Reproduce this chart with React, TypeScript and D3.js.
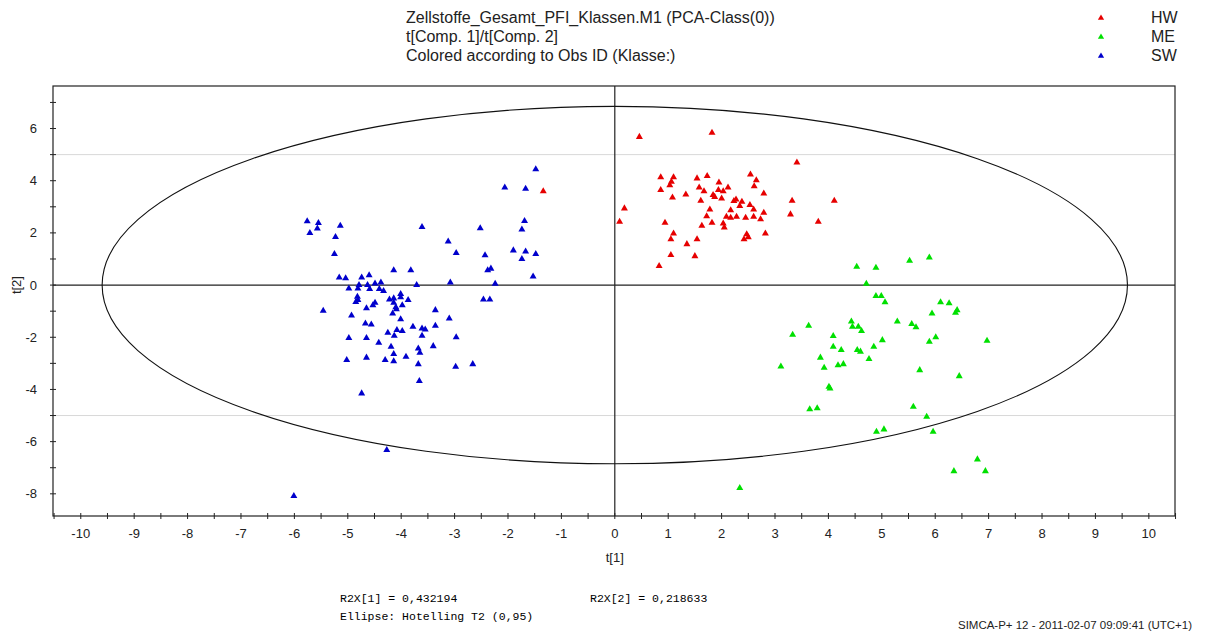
import React from "react";
import * as d3 from "d3";

// ---- data (t[1], t[2]) ----
const hw: [number, number][] = [
  [0.46, 5.68], [1.82, 5.84], [3.41, 4.70], [0.86, 4.13], [1.10, 4.13], [1.06, 3.96],
  [1.03, 3.83], [0.86, 3.64], [1.54, 4.09], [1.73, 4.18], [2.54, 4.24], [2.65, 4.02],
  [2.61, 3.79], [1.95, 3.93], [1.58, 3.74], [1.67, 3.60], [2.12, 3.74], [2.03, 3.60],
  [1.94, 3.64], [1.84, 3.45], [1.87, 3.38], [2.79, 3.51], [1.33, 3.47], [1.08, 3.36],
  [1.61, 3.23], [2.00, 3.32], [2.23, 3.22], [2.27, 3.28], [2.38, 3.19], [2.34, 3.03],
  [2.53, 3.07], [2.60, 2.90], [3.32, 3.23], [4.11, 3.23], [0.18, 2.94], [0.09, 2.43],
  [1.78, 2.90], [1.72, 2.64], [2.17, 2.87], [2.09, 2.62], [2.17, 2.58], [2.28, 2.62],
  [2.45, 2.58], [2.60, 2.62], [2.73, 2.52], [2.79, 2.77], [3.29, 2.71], [3.81, 2.43],
  [0.94, 2.39], [1.82, 2.39], [1.63, 2.27], [2.03, 2.36], [2.05, 2.21], [1.10, 1.98],
  [1.05, 1.76], [1.54, 1.76], [1.35, 1.57], [2.47, 1.95], [2.50, 1.83], [2.42, 1.76],
  [2.82, 1.98], [1.05, 1.15], [1.50, 1.11], [0.83, 0.73], [-1.34, 3.60],
];

const me: [number, number][] = [
  [4.53, 0.70], [4.89, 0.66], [5.52, 0.93], [5.89, 1.06], [4.71, 0.05], [4.89, -0.42],
  [4.99, -0.42], [5.06, -0.66], [6.10, -0.66], [6.26, -0.70], [5.94, -1.09], [6.41, -0.96],
  [6.38, -1.06], [4.43, -1.40], [4.45, -1.60], [4.56, -1.60], [4.62, -1.76], [5.29, -1.40],
  [5.56, -1.49], [5.64, -1.62], [3.63, -1.56], [3.33, -1.90], [4.09, -1.95], [4.09, -2.36],
  [4.24, -2.49], [4.54, -2.49], [4.60, -2.55], [4.85, -2.36], [5.01, -2.11], [6.01, -2.00],
  [5.89, -2.17], [6.97, -2.13], [3.85, -2.78], [4.76, -2.83], [3.92, -3.17], [4.18, -3.07],
  [4.28, -3.03], [3.11, -3.12], [5.71, -3.26], [6.45, -3.49], [4.01, -3.90], [4.03, -3.96],
  [3.65, -4.76], [3.79, -4.72], [5.59, -4.66], [5.84, -5.05], [4.90, -5.62], [5.04, -5.53],
  [5.96, -5.62], [6.79, -6.68], [6.35, -7.13], [6.94, -7.13], [2.34, -7.78],
];

const sw: [number, number][] = [
  [-1.48, 4.44], [-2.06, 3.74], [-1.67, 3.69], [-5.76, 2.45], [-5.55, 2.38], [-5.57, 2.17],
  [-5.71, 2.00], [-5.14, 2.27], [-5.23, 1.84], [-5.25, 1.19], [-3.61, 2.23], [-2.52, 2.18],
  [-1.69, 2.46], [-1.74, 2.13], [-3.12, 1.67], [-2.97, 1.23], [-2.43, 1.14], [-1.90, 1.33],
  [-1.67, 1.29], [-1.48, 1.19], [-1.74, 1.00], [-1.53, 0.33], [-2.38, 0.57], [-2.32, 0.63],
  [-2.24, 0.05], [-3.08, 0.10], [-2.46, -0.55], [-2.34, -0.55], [-4.14, 0.57], [-3.82, 0.57],
  [-3.71, 0.00], [-5.16, 0.29], [-5.04, 0.26], [-4.74, 0.29], [-4.60, 0.38], [-4.98, -0.13],
  [-4.79, 0.00], [-4.63, 0.00], [-4.49, 0.06], [-4.38, 0.10], [-4.81, -0.13], [-4.59, -0.15],
  [-4.41, -0.15], [-4.33, -0.23], [-5.46, -0.98], [-4.82, -0.45], [-4.81, -0.57], [-4.85, -0.65],
  [-4.49, -0.68], [-4.53, -0.77], [-4.65, -0.89], [-4.93, -1.17], [-4.14, -0.51], [-4.01, -0.34],
  [-4.01, -0.47], [-4.14, -0.68], [-3.98, -0.77], [-3.87, -0.57], [-4.09, -0.93], [-4.16, -1.09],
  [-4.01, -1.31], [-3.36, -0.96], [-3.10, -1.28], [-4.67, -1.47], [-4.56, -1.51], [-3.78, -1.60],
  [-3.61, -1.66], [-3.55, -1.70], [-3.36, -1.56], [-4.25, -1.83], [-4.08, -1.72], [-3.98, -1.76],
  [-4.13, -1.94], [-4.98, -2.03], [-4.65, -2.03], [-3.61, -1.94], [-2.97, -2.00], [-4.42, -2.21],
  [-4.19, -2.36], [-3.68, -2.43], [-3.65, -2.59], [-3.40, -2.34], [-4.14, -2.64], [-3.91, -2.75],
  [-5.02, -2.87], [-4.65, -2.78], [-4.30, -2.87], [-4.14, -2.92], [-3.68, -3.03], [-2.98, -3.13],
  [-2.66, -3.03], [-3.66, -3.68], [-4.74, -4.15], [-4.27, -6.32], [-6.01, -8.08],
  [-4.10, -0.85], [-4.22, -0.55],
];

const classes = ["HW", "ME", "SW"];
const classColors = ["#e60000", "#00e000", "#0000cc"];
const classData = [hw, me, sw];

const xTickLabels = [-10, -9, -8, -7, -6, -5, -4, -3, -2, -1, 0, 1, 2, 3, 4, 5, 6, 7, 8, 9, 10];
const yTickLabels = [-8, -6, -4, -2, 0, 2, 4, 6];
const titleLines = [
  "Zellstoffe_Gesamt_PFI_Klassen.M1 (PCA-Class(0))",
  "t[Comp. 1]/t[Comp. 2]",
  "Colored according to Obs ID (Klasse:)",
];
const ellipseRadii = [9.6, 6.85];
const refLines = [5, -5];

export default function App() {
  const W = 1205, H = 635;
  const L = 53, R = 1175, T = 86, B = 516;
  const x = d3.scaleLinear().domain([-10.52, 10.49]).range([L, R]);
  const y = d3.scaleLinear().domain([-8.85, 7.63]).range([B, T]);
  const tri = d3.symbol().type(d3.symbolTriangle).size(21)();
  const triLegend = d3.symbol().type(d3.symbolTriangle).size(17)();
  const font = "'Liberation Sans', Arial, sans-serif";
  const mono = "'Liberation Mono', 'DejaVu Sans Mono', monospace";
  const xMinor = d3.range(-10.5, 10.51, 0.5);
  const yMinor = d3.range(-8, 7.01, 1);

  return (
    <svg width={W} height={H} style={{ position: "absolute", left: 0, top: 0, background: "#fff" }}>
      {titleLines.map((t, i) => (
        <text key={i} x={406} y={23 + i * 19} fontFamily={font} fontSize={16} fill="#222">{t}</text>
      ))}
      {classes.map((c, i) => (
        <g key={c}>
          <path d={triLegend} transform={`translate(1101,${18 + i * 19})`} fill={classColors[i]} />
          <text x={1151} y={23 + i * 19} fontFamily={font} fontSize={16} fill="#222">{c}</text>
        </g>
      ))}
      {/* reference lines */}
      {refLines.map((v) => (
        <line key={v} x1={L} x2={R} y1={y(v)} y2={y(v)} stroke="#d8d8d8" strokeWidth={1} />
      ))}
      {/* zero lines */}
      <line x1={L} x2={R} y1={y(0)} y2={y(0)} stroke="#222" strokeWidth={1.2} />
      <line x1={x(0)} x2={x(0)} y1={T} y2={B} stroke="#222" strokeWidth={1.2} />
      {/* ellipse */}
      <ellipse cx={x(0)} cy={y(0)} rx={x(ellipseRadii[0]) - x(0)} ry={y(0) - y(ellipseRadii[1])}
        fill="none" stroke="#111" strokeWidth={1.1} />
      {/* frame */}
      <rect x={L} y={T} width={R - L} height={B - T} fill="none" stroke="#222" strokeWidth={1.2} />
      {/* x ticks */}
      {xMinor.map((v) => (
        <line key={v} x1={x(v)} x2={x(v)} y1={B - 3} y2={B + 3} stroke="#222" />
      ))}
      {xTickLabels.map((v) => (
        <text key={v} x={x(v)} y={538} textAnchor="middle" fontFamily={font} fontSize={13} fill="#222">{v}</text>
      ))}
      <text x={x(0)} y={562} textAnchor="middle" fontFamily={font} fontSize={13} fill="#222">t[1]</text>
      {/* y ticks */}
      {yMinor.map((v) => (
        <line key={v} x1={L - 3} x2={L + 3} y1={y(v)} y2={y(v)} stroke="#222" />
      ))}
      {yTickLabels.map((v) => (
        <text key={v} x={37} y={y(v) + 4.5} textAnchor="end" fontFamily={font} fontSize={13} fill="#222">{v}</text>
      ))}
      <text transform={`translate(21,${y(0)}) rotate(-90)`} textAnchor="middle" fontFamily={font} fontSize={13} fill="#222">t[2]</text>
      {/* points */}
      {classData.map((pts, ci) => (
        <g key={ci} fill={classColors[ci]}>
          {pts.map((p, i) => (
            <path key={i} d={tri} transform={`translate(${x(p[0])},${y(p[1])})`} />
          ))}
        </g>
      ))}
      {/* footer */}
      <text x={340} y={602} fontFamily={mono} fontSize={11.5} fill="#000" xmlSpace="preserve">R2X[1] = 0,432194</text>
      <text x={590} y={602} fontFamily={mono} fontSize={11.5} fill="#000" xmlSpace="preserve">R2X[2] = 0,218633</text>
      <text x={340} y={620} fontFamily={mono} fontSize={11.5} fill="#000" xmlSpace="preserve">Ellipse: Hotelling T2 (0,95)</text>
      <text x={958} y={629} fontFamily={font} fontSize={10} fill="#222" textLength={234} lengthAdjust="spacingAndGlyphs">SIMCA-P+ 12 - 2011-02-07 09:09:41 (UTC+1)</text>
    </svg>
  );
}
